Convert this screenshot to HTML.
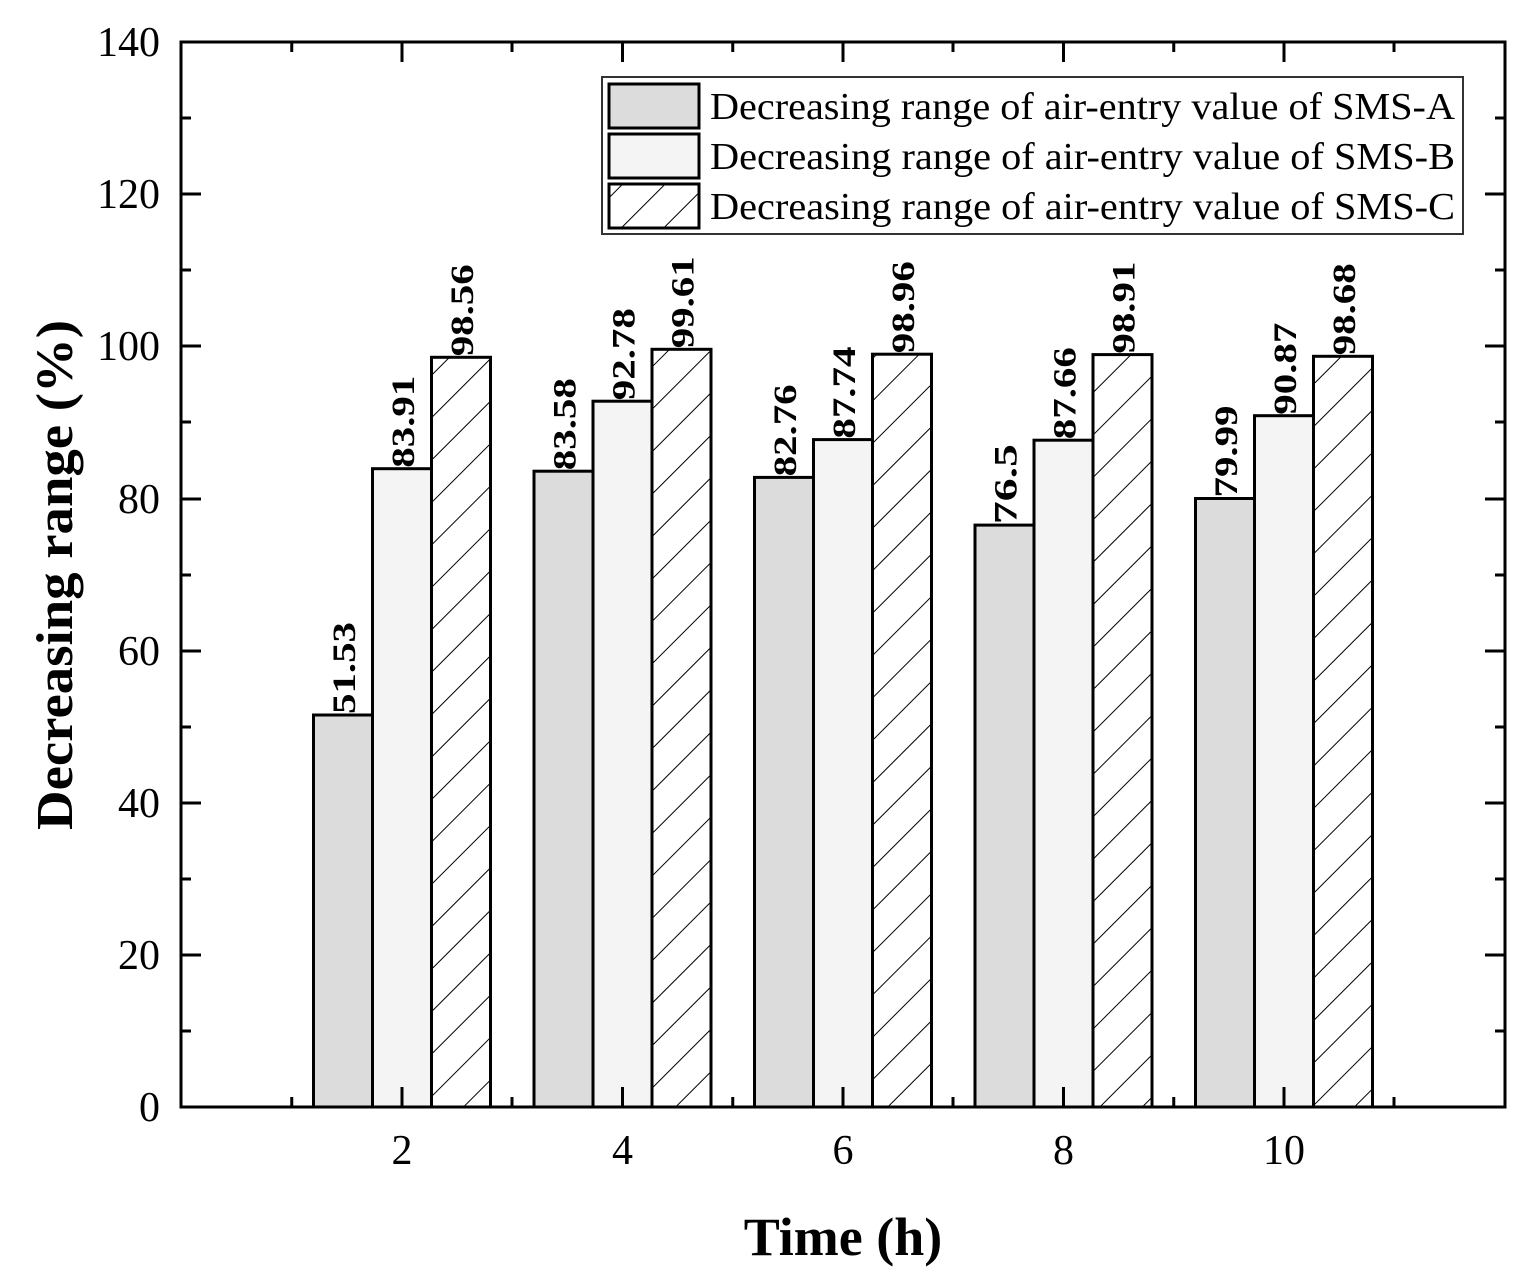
<!DOCTYPE html>
<html><head><meta charset="utf-8"><style>body{margin:0;background:#fff}svg{display:block}</style></head>
<body>
<svg width="1525" height="1288" viewBox="0 0 1525 1288" xmlns="http://www.w3.org/2000/svg" font-family="'Liberation Serif',serif">
<defs>
<pattern id="h" patternUnits="userSpaceOnUse" width="30" height="30" patternTransform="rotate(45)">
<rect width="30" height="30" fill="#fff"/><line x1="0" y1="0" x2="0" y2="30" stroke="#000" stroke-width="2"/></pattern>
</defs>
<g stroke="#000" stroke-width="3">
<rect x="313.5" y="715" width="59" height="392" fill="#dcdcdc"/>
<rect x="372.5" y="468.7" width="59" height="638.3" fill="#f4f4f4"/>
<rect x="431.5" y="357.3" width="59" height="749.7" fill="url(#h)"/>
<rect x="534" y="471.2" width="59" height="635.8" fill="#dcdcdc"/>
<rect x="593" y="401.2" width="59" height="705.8" fill="#f4f4f4"/>
<rect x="652" y="349.3" width="59" height="757.7" fill="url(#h)"/>
<rect x="754.5" y="477.4" width="59" height="629.6" fill="#dcdcdc"/>
<rect x="813.5" y="439.6" width="59" height="667.4" fill="#f4f4f4"/>
<rect x="872.5" y="354.2" width="59" height="752.8" fill="url(#h)"/>
<rect x="975" y="525.1" width="59" height="581.9" fill="#dcdcdc"/>
<rect x="1034" y="440.2" width="59" height="666.8" fill="#f4f4f4"/>
<rect x="1093" y="354.6" width="59" height="752.4" fill="url(#h)"/>
<rect x="1195.5" y="498.5" width="59" height="608.5" fill="#dcdcdc"/>
<rect x="1254.5" y="415.7" width="59" height="691.3" fill="#f4f4f4"/>
<rect x="1313.5" y="356.3" width="59" height="750.7" fill="url(#h)"/>
</g>
<g font-size="33" font-weight="bold" fill="#000">
<text transform="translate(355,714) rotate(-90)" textLength="92" lengthAdjust="spacingAndGlyphs">51.53</text>
<text transform="translate(414,467.7) rotate(-90)" textLength="92" lengthAdjust="spacingAndGlyphs">83.91</text>
<text transform="translate(473,356.3) rotate(-90)" textLength="92" lengthAdjust="spacingAndGlyphs">98.56</text>
<text transform="translate(575.5,470.2) rotate(-90)" textLength="92" lengthAdjust="spacingAndGlyphs">83.58</text>
<text transform="translate(634.5,400.2) rotate(-90)" textLength="92" lengthAdjust="spacingAndGlyphs">92.78</text>
<text transform="translate(693.5,348.3) rotate(-90)" textLength="92" lengthAdjust="spacingAndGlyphs">99.61</text>
<text transform="translate(796,476.4) rotate(-90)" textLength="92" lengthAdjust="spacingAndGlyphs">82.76</text>
<text transform="translate(855,438.6) rotate(-90)" textLength="92" lengthAdjust="spacingAndGlyphs">87.74</text>
<text transform="translate(914,353.2) rotate(-90)" textLength="92" lengthAdjust="spacingAndGlyphs">98.96</text>
<text transform="translate(1016.5,524.1) rotate(-90)" textLength="80" lengthAdjust="spacingAndGlyphs">76.5</text>
<text transform="translate(1075.5,439.2) rotate(-90)" textLength="92" lengthAdjust="spacingAndGlyphs">87.66</text>
<text transform="translate(1134.5,353.6) rotate(-90)" textLength="92" lengthAdjust="spacingAndGlyphs">98.91</text>
<text transform="translate(1237,497.5) rotate(-90)" textLength="92" lengthAdjust="spacingAndGlyphs">79.99</text>
<text transform="translate(1296,414.7) rotate(-90)" textLength="92" lengthAdjust="spacingAndGlyphs">90.87</text>
<text transform="translate(1355,355.3) rotate(-90)" textLength="92" lengthAdjust="spacingAndGlyphs">98.68</text>
</g>
<rect x="181" y="42" width="1324" height="1065" fill="none" stroke="#000" stroke-width="3"/>
<g stroke="#000" stroke-width="3">
<path d="M181 1107h20M181 955h20M181 803h20M181 651h20M181 499h20M181 346h20M181 194h20M181 42h20
M181 1031h10M181 879h10M181 727h10M181 575h10M181 422h10M181 270h10M181 118h10
M1505 1107h-20M1505 955h-20M1505 803h-20M1505 651h-20M1505 499h-20M1505 346h-20M1505 194h-20
M1505 1031h-10M1505 879h-10M1505 727h-10M1505 575h-10M1505 422h-10M1505 270h-10M1505 118h-10
M402 1107v-20M622.5 1107v-20M843 1107v-20M1063.5 1107v-20M1284 1107v-20
M291.75 1107v-10M512 1107v-10M732.75 1107v-10M953 1107v-10M1173.75 1107v-10M1394 1107v-10
M402 42v20M622.5 42v20M843 42v20M1063.5 42v20M1284 42v20
M291.75 42v10M512 42v10M732.75 42v10M953 42v10M1173.75 42v10M1394 42v10"/>
</g>
<g font-size="42" text-anchor="end">
<text x="160" y="1121">0</text><text x="160" y="969">20</text><text x="160" y="817">40</text>
<text x="160" y="665">60</text><text x="160" y="513">80</text><text x="160" y="360">100</text>
<text x="160" y="208">120</text><text x="160" y="56">140</text>
</g>
<g font-size="42" text-anchor="middle">
<text x="402" y="1164">2</text><text x="622.5" y="1164">4</text><text x="843" y="1164">6</text>
<text x="1063.5" y="1164">8</text><text x="1284" y="1164">10</text>
</g>
<text x="843" y="1255" font-size="54" font-weight="bold" text-anchor="middle">Time (h)</text>
<text transform="translate(72,575) rotate(-90)" font-size="52" font-weight="bold" text-anchor="middle" textLength="510" lengthAdjust="spacingAndGlyphs">Decreasing range (%)</text>
<rect x="602" y="77" width="861" height="157" fill="#fff" stroke="#333" stroke-width="2"/>
<g stroke="#000" stroke-width="3">
<rect x="609" y="84" width="90" height="44" fill="#dcdcdc"/>
<rect x="609" y="134" width="90" height="44" fill="#f4f4f4"/>
<rect x="609" y="184" width="90" height="44" fill="url(#h)"/>
</g>
<g font-size="38">
<text x="710" y="119" textLength="745" lengthAdjust="spacingAndGlyphs">Decreasing range of air-entry value of SMS-A</text>
<text x="710" y="169" textLength="745" lengthAdjust="spacingAndGlyphs">Decreasing range of air-entry value of SMS-B</text>
<text x="710" y="219" textLength="745" lengthAdjust="spacingAndGlyphs">Decreasing range of air-entry value of SMS-C</text>
</g>
</svg>
</body></html>
